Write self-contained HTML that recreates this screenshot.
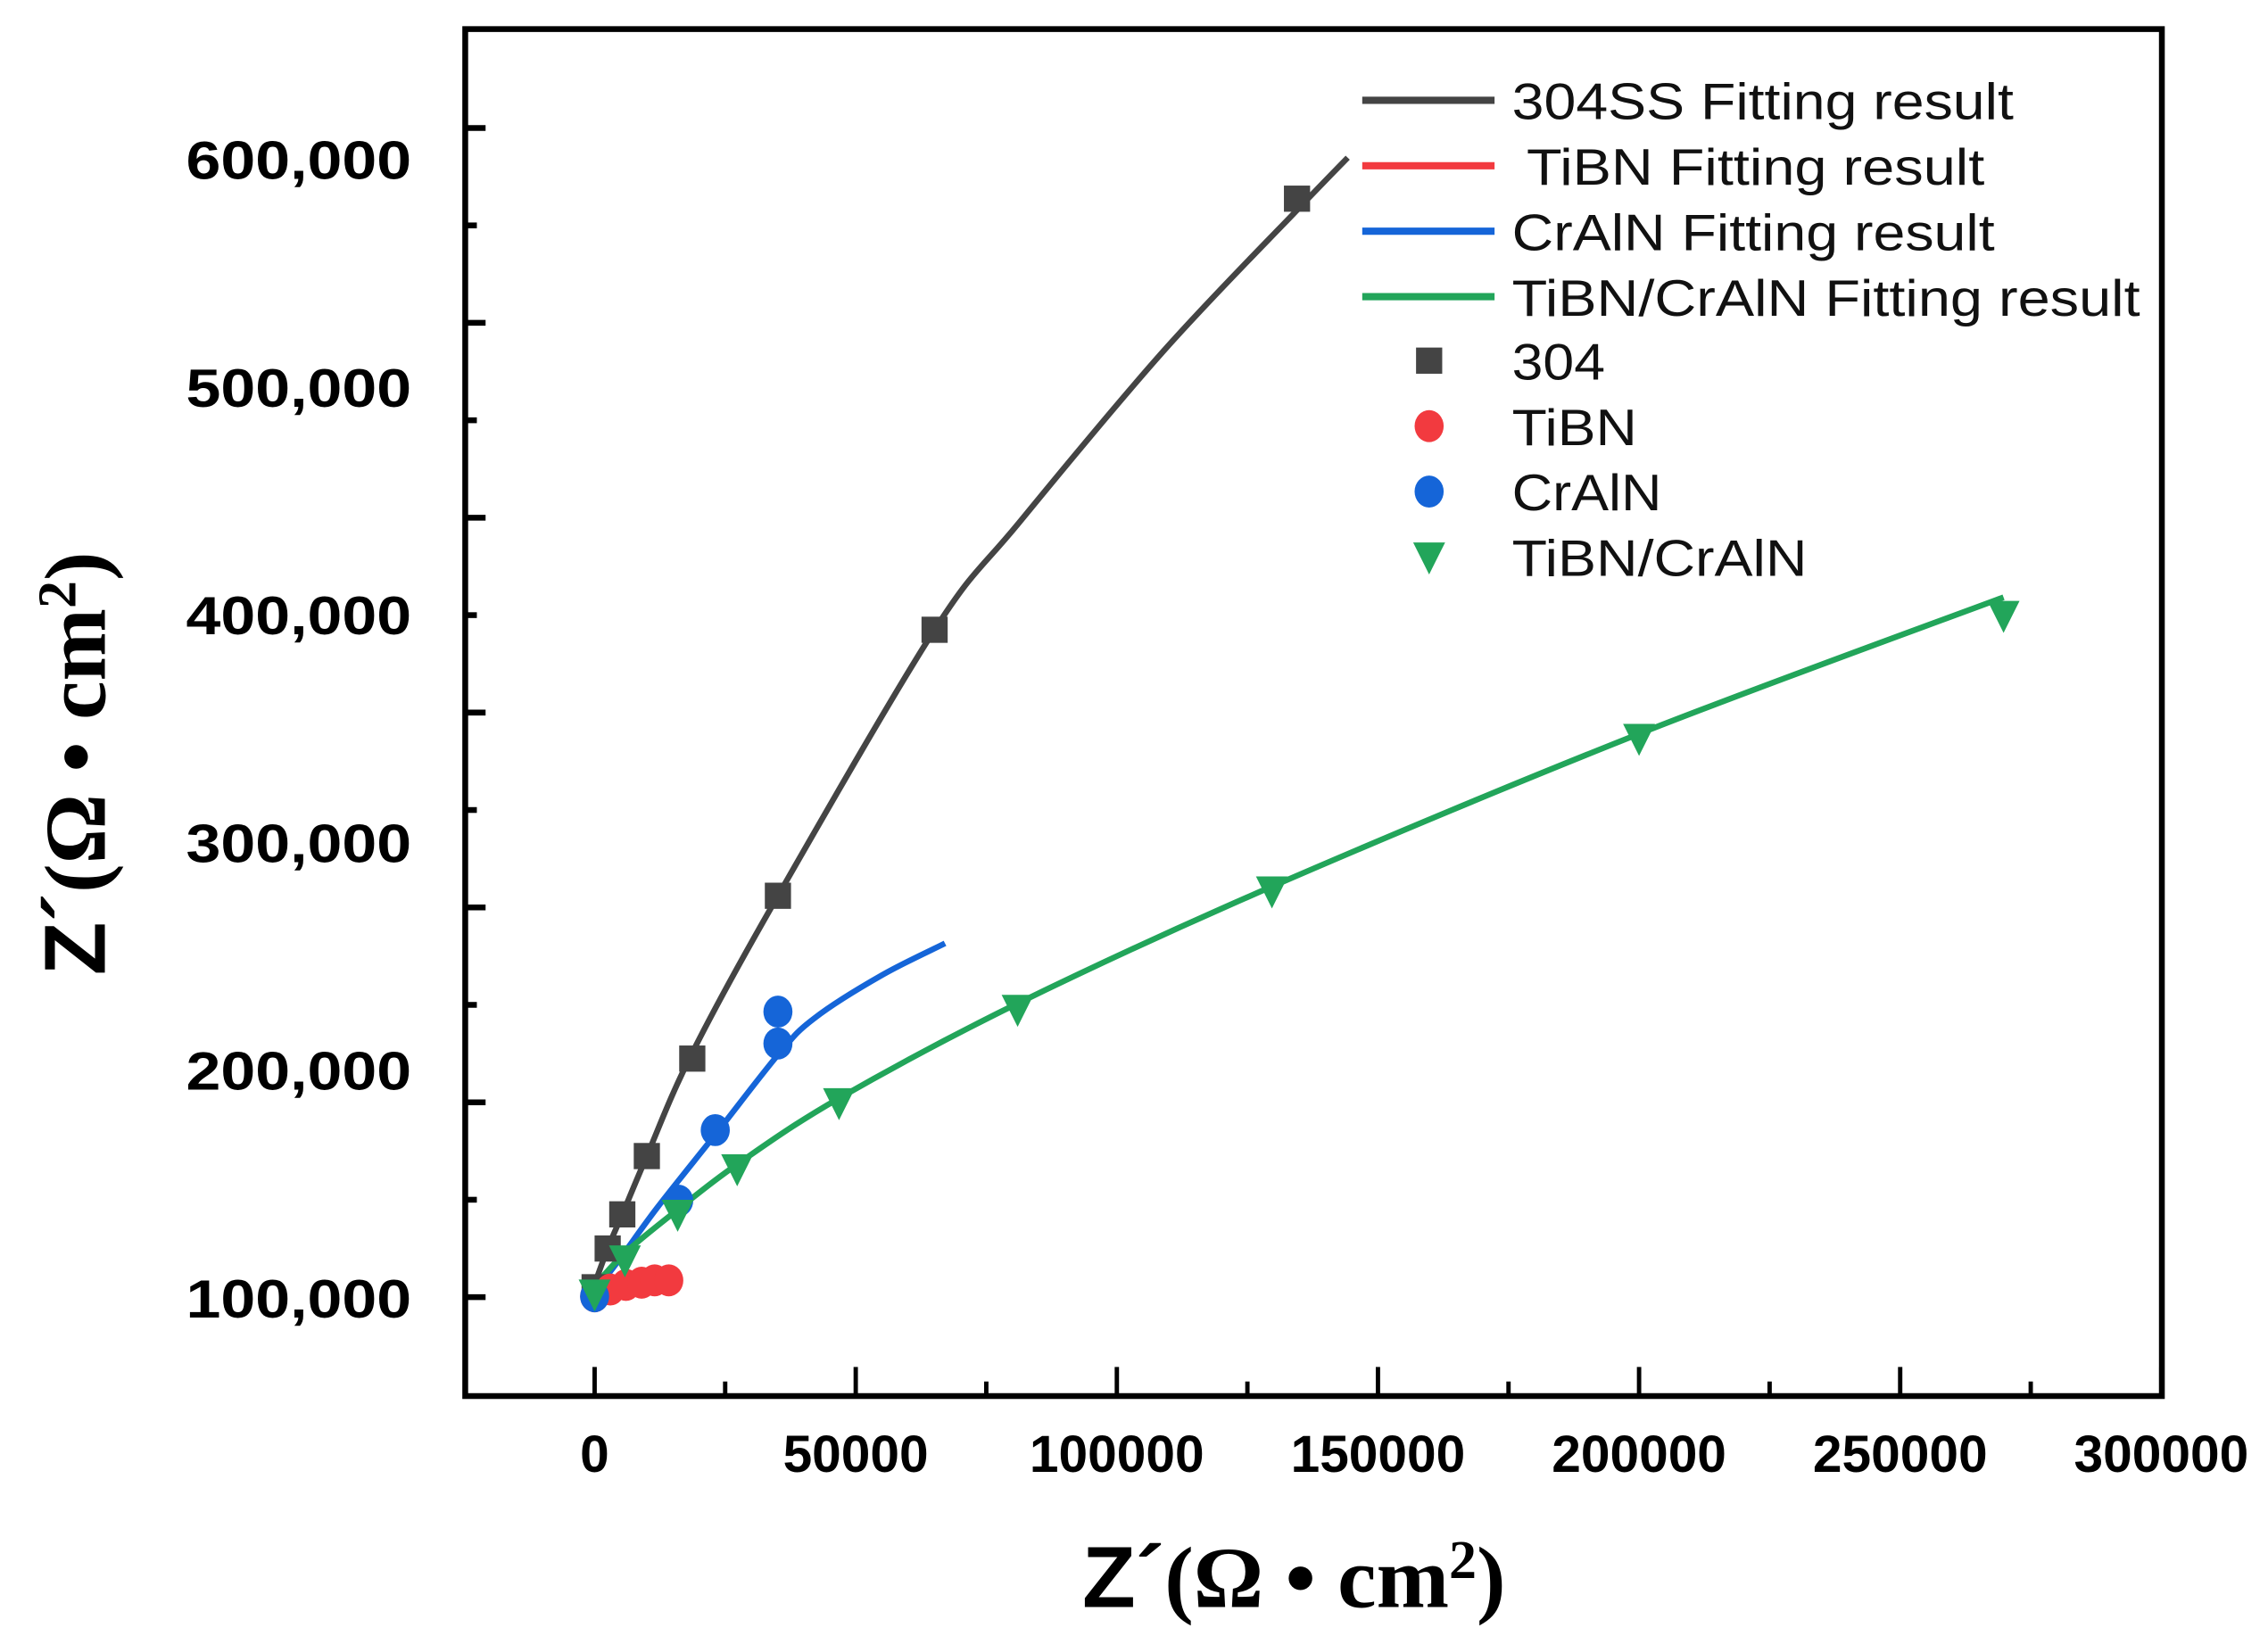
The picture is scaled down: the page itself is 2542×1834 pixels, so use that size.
<!DOCTYPE html>
<html><head><meta charset="utf-8"><style>
html,body{margin:0;padding:0;background:#fff;}
svg{display:block;}
text{font-family:"Liberation Sans",sans-serif;}
</style></head><body>
<svg id="chart" width="2542" height="1834" viewBox="0 0 1560 1125" preserveAspectRatio="none" xmlns="http://www.w3.org/2000/svg">
<rect x="320" y="20" width="1167" height="940" fill="none" stroke="#000" stroke-width="4"/>
<g id="ticks"></g>
<g id="series"></g>
<g font-size="35" fill="#111">
 <line x1="937" y1="69" x2="1028" y2="69" stroke="#444" stroke-width="5"/>
 <text x="1040" y="82" textLength="345" lengthAdjust="spacingAndGlyphs">304SS Fitting result</text>
 <line x1="937" y1="114" x2="1028" y2="114" stroke="#f23a3f" stroke-width="5"/>
 <text x="1050" y="127" textLength="315" lengthAdjust="spacingAndGlyphs">TiBN Fitting result</text>
 <line x1="937" y1="159" x2="1028" y2="159" stroke="#1565d8" stroke-width="5"/>
 <text x="1040" y="172" textLength="332" lengthAdjust="spacingAndGlyphs">CrAlN Fitting result</text>
 <line x1="937" y1="204" x2="1028" y2="204" stroke="#22a55a" stroke-width="5"/>
 <text x="1040" y="217" textLength="432" lengthAdjust="spacingAndGlyphs">TiBN/CrAlN Fitting result</text>
 <rect x="974" y="239" width="18" height="18" fill="#444"/>
 <text x="1040" y="261" textLength="64" lengthAdjust="spacingAndGlyphs">304</text>
 <ellipse cx="983" cy="293" rx="10" ry="11" fill="#f23a3f"/>
 <text x="1040" y="306" textLength="86" lengthAdjust="spacingAndGlyphs">TiBN</text>
 <ellipse cx="983" cy="338" rx="10" ry="11" fill="#1565d8"/>
 <text x="1040" y="351" textLength="103" lengthAdjust="spacingAndGlyphs">CrAlN</text>
 <polygon points="972,373 994,373 983,395" fill="#22a55a"/>
 <text x="1040" y="396" textLength="203" lengthAdjust="spacingAndGlyphs">TiBN/CrAlN</text>
</g>
<text x="890" y="1105" text-anchor="middle" font-size="60" font-weight="bold"><tspan font-family="Liberation Sans,sans-serif">Z´</tspan><tspan font-family="Liberation Serif,serif">(Ω • cm</tspan><tspan font-family="Liberation Serif,serif" font-size="38" dy="-20">2</tspan><tspan font-family="Liberation Serif,serif" dy="20">)</tspan></text>
<text transform="translate(72,525) rotate(-90)" text-anchor="middle" font-size="60" font-weight="bold"><tspan font-family="Liberation Sans,sans-serif">Z´</tspan><tspan font-family="Liberation Serif,serif">(Ω • cm</tspan><tspan font-family="Liberation Serif,serif" font-size="38" dy="-20">2</tspan><tspan font-family="Liberation Serif,serif" dy="20">)</tspan></text>
</svg>
<script>
const xTicks=[0,50000,100000,150000,200000,250000,300000];
const yTickLabels=[100000,200000,300000,400000,500000,600000];
const fit304X=[-1000,2500,5300,10000,18700,35100,65100,81000,108900,134500,144200];
const fit304Y=[100000,122000,137000,162600,208000,276900,393700,440000,516000,578000,601000];
const pts304X=[0,2500,5300,10000,18700,35100,65100,134500];
const pts304Y=[105000,122000,137000,162600,205400,276900,393700,583000];
const fitCrX=[-1000,5000,12000,23100,35100,42000,55000,67100];
const fitCrY=[100000,118000,140000,172000,207000,223000,242000,256000];
const ptsCrX=[0,16100,23100,35100,35100];
const ptsCrY=[101000,143000,174000,212000,226000];
const ptsTiX=[0,3000,6000,9000,11500,14200];
const ptsTiY=[101000,104000,106000,107000,108000,108000];
const fitTiX=[0,3000,6000,9000,11500,14200];
const fitTiY=[101000,104000,106000,107000,108000,108000];
const fitTcX=[-1000,5800,15900,27300,46800,81000,129700,200000,269800];
const fitTcY=[103000,120000,139000,159000,188000,229600,281000,348000,408000];
const ptsTcX=[0,5800,15900,27300,46800,81000,129700,200000,269800];
const ptsTcY=[102000,117000,137000,157000,186000,227000,279000,346000,400000];
const sx=v=>409+v/50000*179.6;
const sy=v=>893-(v-100000)/100000*156.6;
const NS='http://www.w3.org/2000/svg';
const tg=document.getElementById('ticks'), sg=document.getElementById('series');
function mk(tag,attrs,parent){const e=document.createElementNS(NS,tag);for(const k in attrs)e.setAttribute(k,attrs[k]);parent.appendChild(e);return e;}
xTicks.forEach((v,i)=>{
 const x=sx(v);
 const t=mk('line',{x1:x,y1:960,x2:x,y2:940,stroke:'#000','stroke-width':3},tg);
 
 
 if(i<xTicks.length-1){const m=mk('line',{x1:x+89.8,y1:960,x2:x+89.8,y2:950,stroke:'#000','stroke-width':3},tg);
 
 }
 const l=mk('text',{x:x,y:1012,'text-anchor':'middle','font-size':36,'font-weight':'bold'},tg);
 
 
 l.textContent=String(v);
});
for(let k=0;k<13;k++){
 const y=892-67*k;
 const t=mk('line',{x1:320,y1:y,x2:k%2?328:334,y2:y,stroke:'#000','stroke-width':4},tg);
 
 
}
yTickLabels.forEach(v=>{
 const l=mk('text',{x:283,y:sy(v)+13,'text-anchor':'end','font-size':37,'font-weight':'bold',textLength:155,lengthAdjust:'spacingAndGlyphs'},tg);
 
 
 l.textContent=v.toLocaleString('en-US');
});
function line(xs,ys,color,name){
 const P=xs.map((x,i)=>[sx(x),sy(ys[i])]);
 let d='M'+P[0][0].toFixed(1)+','+P[0][1].toFixed(1);
 for(let i=0;i<P.length-1;i++){
  const p0=P[i-1]||P[i],p1=P[i],p2=P[i+1],p3=P[i+2]||P[i+1];
  const c1=[p1[0]+(p2[0]-p0[0])/6,p1[1]+(p2[1]-p0[1])/6];
  const c2=[p2[0]-(p3[0]-p1[0])/6,p2[1]-(p3[1]-p1[1])/6];
  d+=' C'+c1[0].toFixed(1)+','+c1[1].toFixed(1)+' '+c2[0].toFixed(1)+','+c2[1].toFixed(1)+' '+p2[0].toFixed(1)+','+p2[1].toFixed(1);
 }
 const p=mk('path',{d:d,fill:'none',stroke:color,'stroke-width':4,'stroke-linejoin':'round'},sg);
 
 
}
function pts(xs,ys,color,shape,name){
 xs.forEach((x,i)=>{
  const cx=sx(x),cy=sy(ys[i]);let e;
  if(shape==='sq')e=mk('rect',{x:cx-9,y:cy-9,width:18,height:18,fill:color},sg);
  else if(shape==='ci')e=mk('ellipse',{cx:cx,cy:cy,rx:10,ry:11,fill:color},sg);
  else e=mk('polygon',{points:(cx-11)+','+(cy-10)+' '+(cx+11)+','+(cy-10)+' '+cx+','+(cy+12),fill:color},sg);
  
  
 });
}
line(fit304X,fit304Y,'#444','fit-line-304ss');
line(fitTiX,fitTiY,'#f23a3f','fit-line-tibn');
line(fitCrX,fitCrY,'#1565d8','fit-line-craln');
line(fitTcX,fitTcY,'#22a55a','fit-line-tibn-craln');
pts(pts304X,pts304Y,'#444','sq','point-304');
pts(ptsTiX,ptsTiY,'#f23a3f','ci','point-tibn');
pts(ptsCrX,ptsCrY,'#1565d8','ci','point-craln');
pts(ptsTcX,ptsTcY,'#22a55a','tri','point-tibn-craln');
</script>
</body></html>
